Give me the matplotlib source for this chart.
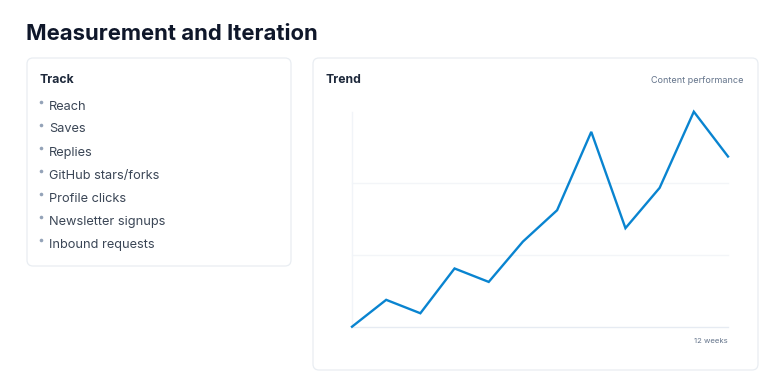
import matplotlib.pyplot as plt
from matplotlib.patches import FancyBboxPatch

plt.rcParams['font.family'] = ['Inter', 'DejaVu Sans']

# --- Data ---
title = 'Measurement and Iteration'
track_items = ['Reach', 'Saves', 'Replies', 'GitHub stars/forks',
               'Profile clicks', 'Newsletter signups', 'Inbound requests']
weeks = list(range(1, 13))
performance = [12, 18, 15, 25, 22, 31, 38, 55.5, 34, 43, 60, 50]

W, H = 784, 392
fig = plt.figure(figsize=(W / 100, H / 100), dpi=100)
fig.patch.set_facecolor('white')

# --- Background layer in pixel coordinates ---
bg = fig.add_axes([0, 0, 1, 1])
bg.set_xlim(0, W)
bg.set_ylim(H, 0)
bg.axis('off')

def card(x0, y0, x1, y1):
    box = FancyBboxPatch((x0, y0), x1 - x0, y1 - y0,
                         boxstyle='round,pad=0,rounding_size=6',
                         facecolor='white', edgecolor='#e9edf2', linewidth=0.9)
    bg.add_patch(box)

card(27, 58, 291, 266)
card(313, 58, 758, 370)

bg.text(26.5, 34, title, fontsize=15.9, fontweight='bold', color='#0f172a',
        va='center', ha='left')

# --- Track card ---
bg.text(40, 80, 'Track', fontsize=8.8, fontweight='bold', color='#1e293b',
        va='center', ha='left')
for i, item in enumerate(track_items):
    y = 106 + i * 23
    bg.plot(41.5, y - 4.5, 'o', markersize=2.6, color='#94a3b8', markeredgewidth=0)
    bg.text(49, y + 0.5, item, fontsize=9.2, color='#3b4656', va='center', ha='left')

# --- Trend card ---
bg.text(326, 80, 'Trend', fontsize=8.8, fontweight='bold', color='#1e293b',
        va='center', ha='left')
bg.text(744, 80.5, 'Content performance', fontsize=6.5, color='#64748b',
        va='center', ha='right')
bg.text(728, 341, '12 weeks', fontsize=5.6, color='#64748b',
        va='center', ha='right')

# --- Chart ---
left, right, top, bottom = 352, 728, 111.7, 326.7
ax = fig.add_axes([left / W, (H - bottom) / H, (right - left) / W, (bottom - top) / H])
ax.patch.set_alpha(0)
lo, hi = min(performance), max(performance)
ax.set_xlim(weeks[0], weeks[-1])
ax.set_ylim(lo, hi)
for s in ax.spines.values():
    s.set_visible(False)
ax.set_xticks([])
ax.set_yticks([])

step = (hi - lo) / 3
for k in range(3):
    ax.axhline(lo + k * step, color='#e6ebf2' if k == 0 else '#f3f5f8',
               linewidth=1.0, zorder=1, clip_on=False)
ax.axvline(weeks[0], color='#f1f4f8', linewidth=1.0, zorder=1, clip_on=False)

ax.plot(weeks, performance, color='#0984d0', linewidth=1.7, zorder=3,
        solid_joinstyle='miter', clip_on=False)

fig.savefig('out.png', dpi=100, facecolor='white')
